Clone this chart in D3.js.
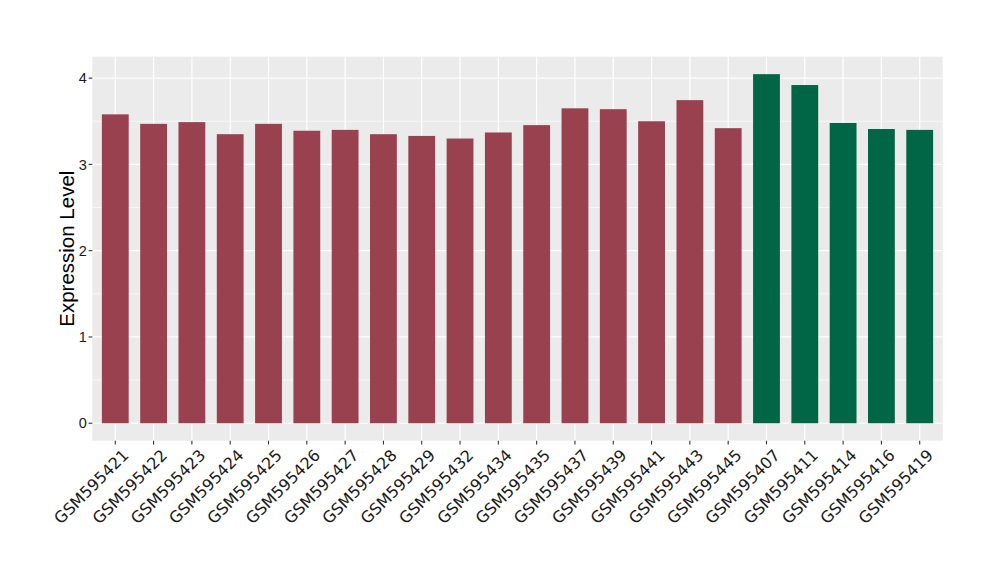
<!DOCTYPE html>
<html><head><meta charset="utf-8">
<script src="https://cdn.jsdelivr.net/npm/d3@7"></script>
<style>body{margin:0;background:#fff}svg{display:block}</style>
</head><body>
<svg id="c" width="1000" height="580"></svg>
<script>
const categories = ["GSM595421","GSM595422","GSM595423","GSM595424","GSM595425","GSM595426","GSM595427","GSM595428","GSM595429","GSM595432","GSM595434","GSM595435","GSM595437","GSM595439","GSM595441","GSM595443","GSM595445","GSM595407","GSM595411","GSM595414","GSM595416","GSM595419"];
const values = [3.58,3.47,3.49,3.35,3.47,3.39,3.40,3.35,3.33,3.30,3.37,3.455,3.65,3.64,3.50,3.745,3.42,4.046,3.92,3.48,3.41,3.40];
const groups = ["a","a","a","a","a","a","a","a","a","a","a","a","a","a","a","a","a","b","b","b","b","b"];
const yTicks = [0,1,2,3,4];
const colors = {a:"#99414F", b:"#006645"};

const svg = d3.select("#c");
const L=92.3, R=942.7, T=56.7, B=440.7;
const maxV = d3.max(values);
const ex = maxV*0.05;
const y = d3.scaleLinear().domain([-ex, maxV+ex]).range([B,T]);
const x = d3.scaleBand().domain(categories).range([L,R]).paddingInner(0.3).paddingOuter(0.25);
const bw = x.bandwidth();
const cx = c => x(c) + bw/2;

svg.append("rect").attr("x",L).attr("y",T).attr("width",R-L).attr("height",B-T).attr("fill","#EBEBEB");
const g = svg.append("g");
d3.range(0.5,4.5,1).forEach(v=>{
  if (y(v) > T) g.append("line").attr("x1",L).attr("x2",R).attr("y1",y(v)).attr("y2",y(v)).attr("stroke","#fff").attr("stroke-width",0.6);
});
yTicks.forEach(v=>{
  g.append("line").attr("x1",L).attr("x2",R).attr("y1",y(v)).attr("y2",y(v)).attr("stroke","#fff").attr("stroke-width",1.2);
});
categories.forEach(c=>{
  g.append("line").attr("x1",cx(c)).attr("x2",cx(c)).attr("y1",T).attr("y2",B).attr("stroke","#fff").attr("stroke-width",1.2);
});
svg.append("g").selectAll("rect").data(values).join("rect")
  .attr("x",(d,i)=>x(categories[i])).attr("width",bw)
  .attr("y",d=>y(d)).attr("height",d=>y(0)-y(d))
  .attr("fill",(d,i)=>colors[groups[i]]);
const ya = svg.append("g");
yTicks.forEach(v=>{
  ya.append("line").attr("x1",L-3.7).attr("x2",L).attr("y1",y(v)).attr("y2",y(v)).attr("stroke","#333").attr("stroke-width",1.1);
  ya.append("text").attr("x",L-5.5).attr("y",y(v)).attr("dy","0.36em").attr("text-anchor","end")
    .attr("font-family","Liberation Sans, Arial, sans-serif").attr("font-size",14.5).attr("fill","#1a1a1a").text(v);
});
const xa = svg.append("g");
categories.forEach(c=>{
  xa.append("line").attr("x1",cx(c)).attr("x2",cx(c)).attr("y1",B).attr("y2",B+3.7).attr("stroke","#333").attr("stroke-width",1.1);
  xa.append("text").attr("transform",`translate(${cx(c)+6},${B+7}) rotate(-45)`)
    .attr("text-anchor","end").attr("dy","0.75em")
    .attr("font-family","DejaVu Sans, sans-serif").attr("font-size",16).attr("fill","#1a1a1a").text(c);
});
svg.append("text").attr("transform",`translate(74,${(T+B)/2}) rotate(-90)`).attr("text-anchor","middle")
  .attr("font-family","Liberation Sans, Arial, sans-serif").attr("font-size",20.5).attr("fill","#000").text("Expression Level");
</script>
</body></html>
